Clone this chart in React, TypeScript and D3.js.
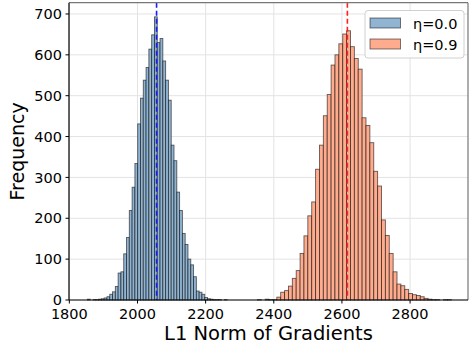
import React from "react";
import * as d3 from "d3";

const blueCounts = [2, 0, 1, 1, 2, 3, 5, 8, 14, 20, 33, 66, 69, 113, 153, 219, 276, 334, 431, 494, 538, 569, 614, 649, 693, 630, 640, 585, 538, 489, 379, 341, 264, 219, 163, 136, 100, 86, 57, 22, 19, 14, 6, 3, 2, 1, 1, 1, 0, 1];
const redCounts = [1, 0, 2, 1, 1, 7, 19, 23, 34, 53, 72, 114, 157, 206, 240, 320, 379, 451, 503, 575, 600, 627, 651, 659, 620, 591, 565, 446, 427, 385, 315, 279, 196, 158, 114, 69, 39, 35, 26, 16, 13, 11, 8, 4, 2, 1, 1, 0, 1, 1];
const blueRange = [1853, 2263];
const redRange = [2352, 2921];
const blueMean = 2056;
const redMean = 2616;
const xTicks = [1800, 2000, 2200, 2400, 2600, 2800];
const yTicks = [0, 100, 200, 300, 400, 500, 600, 700];
const seriesLabels = ["η=0.0", "η=0.9"];
const xLabel = "L1 Norm of Gradients";
const yLabel = "Frequency";

const W = 469, H = 343;
const L = 69, R = 468, T = 2.7, B = 300;
const FONT = "DejaVu Sans, sans-serif";

function bins(counts: number[], range: number[]) {
  const w = (range[1] - range[0]) / counts.length;
  return counts.map((c, i) => ({ x0: range[0] + i * w, x1: range[0] + (i + 1) * w, c }));
}

export default function App() {
  const x = d3.scaleLinear().domain([1799, 2970]).range([L, R]);
  const y = d3.scaleLinear().domain([0, 727.6]).range([B, T]);
  const blue = bins(blueCounts, blueRange);
  const red = bins(redCounts, redRange);
  const blueFill = "#90b4d2";
  const redFill = "#ffac8e";
  const drawBars = (data: any[], fill: string, key: string) =>
    data.filter(d => d.c > 0).map((d, i) => (
      <rect key={key + i} x={x(d.x0)} y={y(d.c)} width={x(d.x1) - x(d.x0)} height={B - y(d.c)}
        fill={fill} stroke="#000" strokeOpacity={0.6} strokeWidth={0.9} />
    ));
  return (
    <svg width={W} height={H} style={{ position: "absolute", left: 0, top: 0, background: "#fff" }} fontFamily={FONT}>
      {/* grid */}
      {xTicks.map(t => (
        <line key={"gx" + t} x1={x(t)} x2={x(t)} y1={T} y2={B} stroke="#e3e3e3" strokeWidth={1} />
      ))}
      {yTicks.map(t => (
        <line key={"gy" + t} x1={L} x2={R} y1={y(t)} y2={y(t)} stroke="#e3e3e3" strokeWidth={1} />
      ))}
      {drawBars(blue, blueFill, "b")}
      {drawBars(red, redFill, "r")}
      <line x1={x(blueMean)} x2={x(blueMean)} y1={T} y2={B} stroke="#1a1aff" strokeWidth={1.6} strokeDasharray="5,3" />
      <line x1={x(redMean)} x2={x(redMean)} y1={T} y2={B} stroke="#ff2020" strokeWidth={1.6} strokeDasharray="5,3" />
      {/* spines */}
      <line x1={L} x2={R} y1={T} y2={T} stroke="#777" strokeWidth={1.2} />
      <line x1={R} x2={R} y1={T} y2={B} stroke="#777" strokeWidth={1.2} />
      <line x1={L} x2={L} y1={T} y2={B} stroke="#000" strokeWidth={1.2} />
      <line x1={L} x2={R} y1={B} y2={B} stroke="#000" strokeWidth={1.2} />
      {/* ticks */}
      {xTicks.map(t => (
        <g key={"xt" + t}>
          <line x1={x(t)} x2={x(t)} y1={B} y2={B + 3.5} stroke="#000" strokeWidth={1} />
          <text x={x(t)} y={318.5} textAnchor="middle" fontSize={14.5} fill="#000">{t}</text>
        </g>
      ))}
      {yTicks.map(t => (
        <g key={"yt" + t}>
          <line x1={L - 3.5} x2={L} y1={y(t)} y2={y(t)} stroke="#000" strokeWidth={1} />
          <text x={L - 7} y={y(t)} dy="0.36em" textAnchor="end" fontSize={14.5} fill="#000">{t}</text>
        </g>
      ))}
      <text x={(L + R) / 2} y={339.5} textAnchor="middle" fontSize={19.5} fill="#000">{xLabel}</text>
      <text transform={`translate(24,${(T + B) / 2}) rotate(-90)`} textAnchor="middle" fontSize={19} fill="#000">{yLabel}</text>
      {/* legend */}
      <g>
        <rect x={365} y={10.5} width={99} height={47.5} rx={3} fill="#fff" fillOpacity={0.85} stroke="#d0d0d0" strokeWidth={1} />
        <rect x={370} y={18} width={30.5} height={10} fill={blueFill} stroke="#000" strokeOpacity={0.5} strokeWidth={1} />
        <rect x={370} y={39} width={30.5} height={10} fill={redFill} stroke="#000" strokeOpacity={0.5} strokeWidth={1} />
        <text x={413} y={28.5} fontSize={14.5} fill="#000">{seriesLabels[0]}</text>
        <text x={413} y={49.5} fontSize={14.5} fill="#000">{seriesLabels[1]}</text>
      </g>
    </svg>
  );
}
